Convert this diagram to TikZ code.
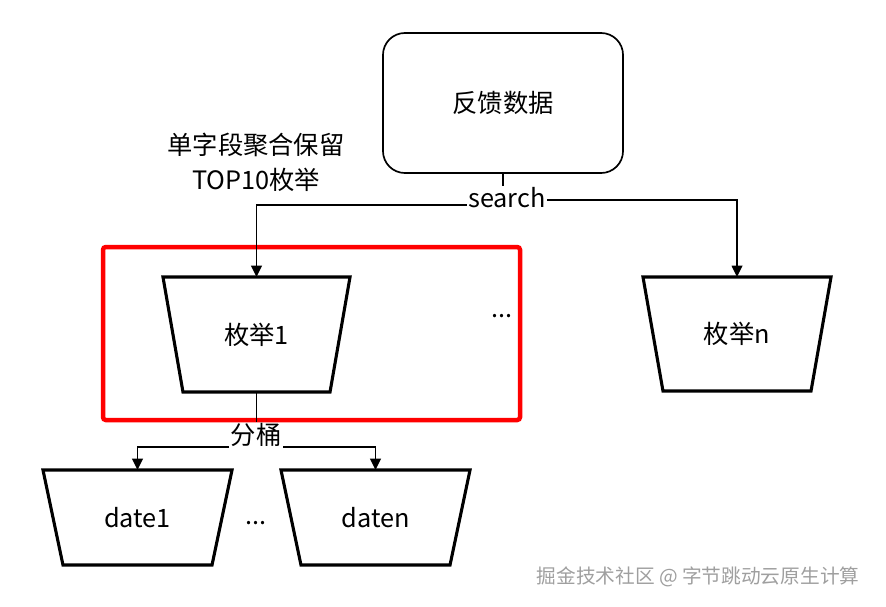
\documentclass[tikz,border=0pt]{standalone}
\usepackage{fontspec}
\setmainfont{Noto Sans CJK SC}
\usetikzlibrary{positioning, arrows.meta}

\begin{document}
\begin{tikzpicture}[x=0.025cm, y=-0.025cm,
    every node/.style={font=\fontsize{18}{25}\selectfont, inner sep=1pt},
    bucket/.style={outer sep=0pt},
    bucketline/.style={line width=2.2pt},
    conn/.style={line width=1.2pt},
    arr/.style={conn, -{Triangle[length=8pt, width=7.5pt]}}]
    \useasboundingbox (0,0) rectangle (886,606);
    \node[draw, line width=1.2pt, rounded corners=0.55cm, minimum width=6cm,
        minimum height=3.5cm] (fb) at (503,103) {反馈数据};
    \node[align=center] (note) at (256,162) {单字段聚合保留\\TOP10枚举};
    \node (search) at (507,198) {search};
    \draw[red, line width=3.2pt, rounded corners=2pt] (103,247) rectangle (520,420);
    \node[bucket, minimum width=4.675cm, minimum height=2.875cm] (enum1) at (256.5,334.5) {枚举1};
    \node (dots1) at (502,316) {...};
    \node[bucket, minimum width=4.7cm, minimum height=2.85cm] (enumn) at (737,334) {枚举n};
    \node (fentong) at (256,435) {分桶};
    \node[bucket, minimum width=4.725cm, minimum height=2.375cm] (date1) at (137.5,517.5) {date1};
    \node (dots2) at (256,523) {...};
    \node[bucket, minimum width=4.725cm, minimum height=2.375cm] (daten) at (375.5,517.5) {daten};
    \foreach \b in {enum1, enumn, date1, daten}
        \draw[bucketline] (\b.north west) -- (\b.north east) -- ([xshift=-0.5cm]\b.south east)
            -- ([xshift=0.5cm]\b.south west) -- cycle;
    \draw[conn] (fb.south) -- (fb.south |- search.north);
    \draw[arr] ([yshift=-0.17cm]search.west) -| (enum1.north);
    \draw[arr] ([yshift=-0.05cm]search.east) -| (enumn.north);
    \draw[conn] (enum1.south) -- (enum1.south |- fentong.north);
    \draw[arr] ([yshift=-0.3cm]fentong.west) -| (date1.north);
    \draw[arr] ([yshift=-0.3cm]fentong.east) -| (daten.north);
    \node[text=gray!75, font=\fontsize{14}{16}\selectfont] (mark) at (698,577)
        {掘金技术社区 @ 字节跳动云原生计算};
\end{tikzpicture}
\end{document}
